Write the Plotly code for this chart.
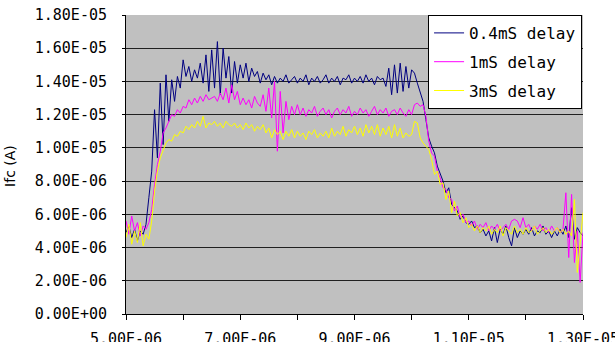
import plotly.graph_objects as go

# time in microseconds
t_us = [
    5.00, 5.05, 5.10, 5.15, 5.20, 5.25, 5.30, 5.35, 5.40, 5.45,
    5.50, 5.55, 5.60, 5.65, 5.70, 5.75, 5.80, 5.85, 5.90, 5.95,
    6.00, 6.05, 6.10, 6.15, 6.20, 6.25, 6.30, 6.35, 6.40, 6.45,
    6.50, 6.55, 6.60, 6.65, 6.70, 6.75, 6.80, 6.85, 6.90, 6.95,
    7.00, 7.05, 7.10, 7.15, 7.20, 7.25, 7.30, 7.35, 7.40, 7.45,
    7.50, 7.55, 7.60, 7.65, 7.70, 7.75, 7.80, 7.85, 7.90, 7.95,
    8.00, 8.05, 8.10, 8.15, 8.20, 8.25, 8.30, 8.35, 8.40, 8.45,
    8.50, 8.55, 8.60, 8.65, 8.70, 8.75, 8.80, 8.85, 8.90, 8.95,
    9.00, 9.05, 9.10, 9.15, 9.20, 9.25, 9.30, 9.35, 9.40, 9.45,
    9.50, 9.55, 9.60, 9.65, 9.70, 9.75, 9.80, 9.85, 9.90, 9.95,
    10.00, 10.05, 10.10, 10.15, 10.20, 10.25, 10.30, 10.35, 10.40, 10.45,
    10.50, 10.55, 10.60, 10.65, 10.70, 10.75, 10.80, 10.85, 10.90, 10.95,
    11.00, 11.05, 11.10, 11.15, 11.20, 11.25, 11.30, 11.35, 11.40, 11.45,
    11.50, 11.55, 11.60, 11.65, 11.70, 11.75, 11.80, 11.85, 11.90, 11.95,
    12.00, 12.05, 12.10, 12.15, 12.20, 12.25, 12.30, 12.35, 12.40, 12.45,
    12.50, 12.55, 12.60, 12.65, 12.70, 12.75, 12.80, 12.85, 12.90, 12.95,
    13.00,
]

# Ifc in microamps
ifc_04ms = [
    4.9, 5.3, 4.6, 5.1, 4.4, 5.0, 4.8, 5.4, 7.0, 8.6,
    12.3, 9.4, 13.9, 10.2, 14.4, 11.6, 14.1, 12.8, 14.3, 13.6,
    15.3, 14.3, 14.9, 14.0, 14.7, 14.2, 15.1, 13.9, 15.6, 13.4,
    15.9, 13.6, 16.4, 13.2, 16.0, 14.2, 15.5, 13.3, 15.2, 13.9,
    15.0, 14.2, 15.1, 14.0, 14.8, 14.3, 14.6, 13.9, 14.5, 14.1,
    14.4, 13.8, 14.3, 13.9, 14.2, 14.0, 14.4, 13.9, 14.1, 14.3,
    13.9, 14.2, 14.0, 14.4, 13.8, 14.2, 14.0, 14.3, 13.9, 14.1,
    14.4, 13.9, 14.2, 14.0, 14.3, 13.8, 14.2, 14.1, 14.4, 13.9,
    14.2, 14.0, 14.3, 13.9, 14.4, 14.0, 14.2, 13.8, 14.3, 14.1,
    14.2, 13.7, 14.8, 13.2, 15.0, 13.3, 15.1, 13.4, 14.9, 13.6,
    14.7, 14.5, 13.9, 13.3, 12.8, 11.7, 10.6, 10.1, 9.7, 8.9,
    8.4, 8.0, 7.3, 7.6, 6.6, 6.4, 6.2, 5.7, 5.9, 5.5,
    5.4, 5.6, 5.2, 5.3, 4.9, 5.1, 4.7, 5.0, 4.4, 5.2,
    4.3, 5.1, 4.8, 5.3, 4.6, 4.1, 5.2, 4.6, 5.0, 4.8,
    5.1, 4.8, 5.2, 4.7, 5.0, 4.9, 5.3, 4.8, 5.0, 4.6,
    5.0, 4.7, 5.1, 4.8, 5.3, 4.6, 6.4, 4.5, 5.2, 4.9,
    4.7,
]

ifc_1ms = [
    5.6, 4.8, 5.9, 5.0, 5.5, 4.7, 5.3, 5.1, 5.5, 6.3,
    7.8, 9.0, 9.8, 10.9, 11.2, 11.6, 12.0, 11.9, 12.3, 12.1,
    12.5, 12.4, 12.9, 12.6, 13.0, 12.7, 13.1, 12.8, 13.2, 12.9,
    13.0, 13.1, 12.8, 13.3, 12.9, 13.6, 12.7, 13.8, 12.9, 13.4,
    12.6, 13.0, 12.6, 12.9, 12.4, 13.1, 12.7, 12.5, 13.2, 12.2,
    13.6, 11.8, 14.0, 9.8, 13.4, 10.9, 12.8, 11.7, 12.5, 12.0,
    12.6, 12.0, 12.4, 11.9, 12.3, 12.1, 12.5, 11.9, 12.2, 12.4,
    12.0, 12.3, 11.8, 12.2, 12.4, 12.0, 12.3, 12.1, 12.5, 11.9,
    12.2, 12.0, 12.4, 12.1, 12.3, 11.9, 12.2, 12.5, 12.0, 12.3,
    12.1, 12.4, 11.9, 12.2, 12.3, 12.0, 12.4, 12.1, 11.9, 12.3,
    12.0, 12.6, 12.7, 12.5, 12.6, 11.9, 10.4, 9.7, 9.5, 8.6,
    8.2, 7.6, 7.5, 7.0, 6.9, 6.2, 6.5, 5.8, 6.0, 5.5,
    5.6, 5.3, 5.6, 5.1, 5.4, 5.2, 5.5, 5.0, 5.3, 5.1,
    5.4, 5.0, 5.2, 5.4, 5.1, 5.6, 5.7, 5.6, 5.2, 5.8,
    5.2, 5.4, 5.0, 5.3, 5.1, 5.4, 5.0, 5.2, 4.9, 5.3,
    5.0, 5.2, 4.9, 5.1, 7.3, 3.4, 7.2, 3.1, 5.0, 1.9,
    4.9,
]

ifc_3ms = [
    4.6, 5.4, 4.2, 5.0, 4.3, 5.5, 4.1, 4.8, 4.5, 5.6,
    7.4, 8.6, 9.4, 9.9, 10.3, 10.5, 10.4, 10.8, 10.7, 11.0,
    10.9, 11.3, 11.1, 11.4, 11.2, 11.6, 11.3, 11.9, 11.2, 11.5,
    11.4, 11.6, 11.3, 11.5, 11.2, 11.6, 11.4, 11.3, 11.5, 11.2,
    11.4, 11.1, 11.5, 11.2, 11.4, 11.0, 11.3, 11.1, 11.4, 10.9,
    11.2, 10.6, 11.1, 10.8, 11.0, 10.5, 11.0, 10.7, 11.1, 10.6,
    11.0, 10.7, 10.9, 10.5, 11.0, 10.8, 11.1, 10.6, 10.9, 10.7,
    11.0, 10.6, 11.2, 10.7, 11.0, 10.8, 11.3, 10.7, 11.1, 10.9,
    11.3, 10.8, 11.2, 10.7, 11.4, 10.9, 11.3, 10.8, 11.4, 10.7,
    11.2, 10.8, 11.3, 10.6, 11.4, 10.7, 11.2, 10.6, 10.9, 10.7,
    10.8, 11.6, 11.5, 10.6, 10.3, 10.1, 9.9, 9.3, 8.4, 8.6,
    7.8, 7.9, 6.9, 7.4, 6.1, 6.8, 5.9, 6.1, 5.5, 5.8,
    5.2, 5.4, 5.0, 5.3, 4.9, 5.2, 5.0, 5.3, 4.8, 5.1,
    4.9, 5.3, 4.7, 5.2, 5.0, 4.8, 5.3, 4.9, 5.1, 4.8,
    5.2, 4.9, 5.0, 5.3, 4.8, 5.0, 5.2, 4.9, 5.1, 4.8,
    5.0, 5.2, 4.9, 5.1, 4.8, 5.0, 4.7, 6.9, 2.5, 4.5,
    6.1,
]

series_names = ["0.4mS delay", "1mS delay", "3mS delay"]
series_colors = ["#000080", "#FF00FF", "#FFFF00"]

x_tickvals = [5, 6, 7, 8, 9, 10, 11, 12, 13]
x_ticktext = ["5.00E-06", "", "7.00E-06", "", "9.00E-06", "", "1.10E-05", "", "1.30E-05"]
y_tickvals = [0, 2, 4, 6, 8, 10, 12, 14, 16, 18]
y_ticktext = ["0.00E+00", "2.00E-06", "4.00E-06", "6.00E-06", "8.00E-06",
              "1.00E-05", "1.20E-05", "1.40E-05", "1.60E-05", "1.80E-05"]

MONO = "DejaVu Sans Mono"
SANS = "DejaVu Sans"

fig = go.Figure()
for name, ys, col in zip(series_names, [ifc_04ms, ifc_1ms, ifc_3ms], series_colors):
    fig.add_trace(go.Scatter(x=t_us, y=ys, mode="lines", name=name,
                             legendgroup=name,
                             line=dict(color=col, width=1)))

fig.update_layout(
    width=615, height=342,
    margin=dict(l=126, r=32, t=15, b=28),
    paper_bgcolor="white",
    plot_bgcolor="#C0C0C0",
    font=dict(family=MONO, size=15, color="black"),
    showlegend=True,
    legend=dict(
        x=0.661, y=1.0, xanchor="left", yanchor="top",
        bgcolor="white", bordercolor="black", borderwidth=1,
        font=dict(family=MONO, size=16, color="black"),
        tracegroupgap=5,
    ),
    annotations=[dict(
        text="Ifc (A)", xref="paper", yref="paper", x=-0.254, y=0.495,
        xanchor="center", yanchor="middle", textangle=-90, showarrow=False,
        font=dict(family=SANS, size=14, color="black"),
    )],
)
fig.update_xaxes(
    range=[5, 13], tickvals=x_tickvals, ticktext=x_ticktext,
    ticks="outside", ticklen=5, tickcolor="black",
    showline=True, linecolor="black", linewidth=1,
    showgrid=False, zeroline=False, ticklabelstandoff=6,
    ticklabeloverflow="allow",
    automargin=False, tickfont=dict(family=MONO, size=15),
)
fig.update_yaxes(
    range=[0, 18], tickvals=y_tickvals, ticktext=y_ticktext,
    ticks="outside", ticklen=3, tickcolor="black",
    showline=True, linecolor="black", linewidth=1,
    showgrid=True, gridcolor="#202020", gridwidth=1, zeroline=False,
    ticklabelstandoff=12, automargin=False, tickfont=dict(family=MONO, size=15),
)

fig.write_html("out.html", config={"displayModeBar": False},
               post_script="document.body.style.margin='0';")
